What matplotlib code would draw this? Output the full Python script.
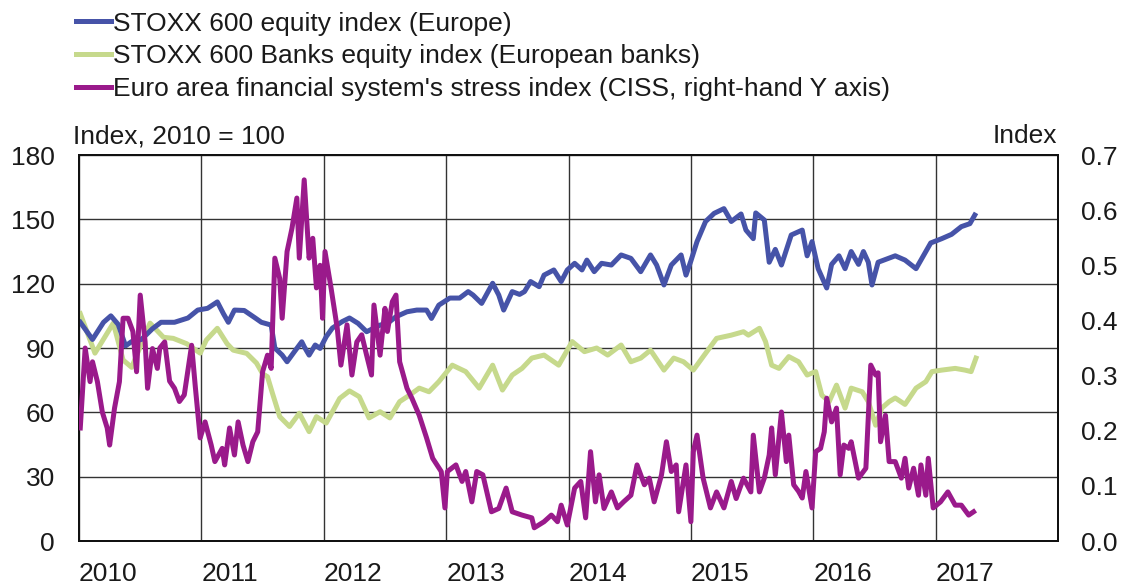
import matplotlib
matplotlib.use("Agg")
import matplotlib.pyplot as plt
from matplotlib.ticker import FuncFormatter

plt.rcParams['font.family'] = ['Liberation Sans', 'DejaVu Sans']

# ---- data (decimal years) ----
stoxx_t = [2010.01, 2010.11, 2010.20, 2010.26, 2010.32, 2010.38, 2010.43, 2010.51, 2010.60, 2010.67,
           2010.78, 2010.89, 2010.97, 2011.05, 2011.13, 2011.18, 2011.22, 2011.27, 2011.35, 2011.44,
           2011.49, 2011.57, 2011.60, 2011.66, 2011.70, 2011.76, 2011.82, 2011.84, 2011.88, 2011.93,
           2011.97, 2012.02, 2012.07, 2012.15, 2012.21, 2012.28, 2012.35, 2012.46, 2012.52, 2012.59,
           2012.68, 2012.76, 2012.84, 2012.88, 2012.94, 2013.03, 2013.11, 2013.18, 2013.22, 2013.29,
           2013.38, 2013.43, 2013.47, 2013.54, 2013.60, 2013.64, 2013.69, 2013.76, 2013.80, 2013.88,
           2013.94, 2013.99, 2014.05, 2014.11, 2014.15, 2014.21, 2014.27, 2014.35, 2014.43, 2014.51,
           2014.59, 2014.67, 2014.72, 2014.78, 2014.84, 2014.92, 2014.96, 2015.00, 2015.05, 2015.12,
           2015.19, 2015.27, 2015.33, 2015.41, 2015.45, 2015.51, 2015.53, 2015.60, 2015.64, 2015.69,
           2015.74, 2015.82, 2015.91, 2015.95, 2015.99, 2016.04, 2016.11, 2016.15, 2016.21, 2016.26,
           2016.31, 2016.37, 2016.41, 2016.45, 2016.48, 2016.53, 2016.67, 2016.75, 2016.84, 2016.88,
           2016.96, 2017.05, 2017.13, 2017.21, 2017.28, 2017.32]
stoxx_v = [102, 94, 102, 105, 101, 91, 93, 94, 99, 102,
           102, 104, 107.7, 108.5, 111.5, 106, 102, 107.7, 107.5, 104,
           102, 100.7, 90, 86.7, 83.6, 88.3, 92.9, 90.6, 86.7, 91.4,
           89.8, 95.3, 99.3, 102.3, 104, 101.5, 97.6, 100.7, 101.5, 104.6,
           106.9, 107.7, 107.7, 103.8, 110, 113.3, 113.3, 116.3, 114.7, 110.8,
           120.2, 114.7, 107.7, 116.3, 115, 116.3, 121, 118.6, 124, 126.4,
           121, 126.4, 129.5, 126.4, 131, 125.6, 129.5, 128.7, 133.4, 131.8,
           125.6, 133.4, 128.7, 119.4, 128.7, 133.4, 124, 130.6, 139.6, 149,
           152.8, 155, 149, 152.5, 145, 141, 153, 149.7, 130, 136,
           128.7, 142.7, 145, 133, 139.6, 127, 118, 129, 133, 127,
           135, 129, 135, 130, 119.4, 130, 133, 131, 127, 131,
           139, 141, 143, 146.6, 148, 152]

banks_t = [2010.01, 2010.13, 2010.28, 2010.36, 2010.43, 2010.58, 2010.69, 2010.77, 2010.88, 2010.99,
           2011.04, 2011.13, 2011.21, 2011.26, 2011.37, 2011.45, 2011.50, 2011.54, 2011.58, 2011.64,
           2011.72, 2011.80, 2011.88, 2011.94, 2012.02, 2012.13, 2012.21, 2012.29, 2012.37, 2012.46,
           2012.54, 2012.62, 2012.70, 2012.78, 2012.86, 2012.94, 2013.05, 2013.16, 2013.27, 2013.38,
           2013.46, 2013.54, 2013.62, 2013.70, 2013.80, 2013.92, 2014.03, 2014.13, 2014.23, 2014.32,
           2014.43, 2014.51, 2014.59, 2014.67, 2014.78, 2014.86, 2014.94, 2015.02, 2015.13, 2015.21,
           2015.33, 2015.43, 2015.47, 2015.56, 2015.61, 2015.66, 2015.72, 2015.80, 2015.88, 2015.95,
           2016.02, 2016.07, 2016.13, 2016.19, 2016.26, 2016.31, 2016.40, 2016.45, 2016.51, 2016.56,
           2016.62, 2016.67, 2016.75, 2016.84, 2016.92, 2016.97, 2017.05, 2017.16, 2017.24, 2017.29,
           2017.33]
banks_v = [106, 87.6, 101.6, 84.4, 81, 101.6, 95, 94.5, 92, 87.6,
           93.7, 99.2, 92, 89, 87.5, 83, 78, 76.6, 69, 58,
           53.4, 59.6, 51, 58, 55, 66.5, 70, 67.3, 57.4, 60.3,
           57.4, 65, 68, 71.3, 69.6, 74.3, 82, 79, 71.3, 82,
           70.4, 77.4, 80.5, 85.3, 86.7, 82, 93, 88.3, 90, 86.7,
           91.4, 83.6, 85.3, 89, 79.7, 85.3, 83.6, 79.7, 88.3, 94.5,
           96, 97.6, 96, 99.2, 93, 82, 80.5, 86, 83.6, 77.4,
           79, 68, 65, 72.7, 62, 71.3, 69.6, 65, 54, 62,
           65, 66.7, 63.7, 71.3, 74.3, 79, 79.7, 80.5, 79.7, 79,
           85.3]

ciss_t = [2010.01, 2010.05, 2010.09, 2010.11, 2010.15, 2010.19, 2010.23, 2010.25, 2010.29, 2010.33,
          2010.36, 2010.40, 2010.44, 2010.47, 2010.50, 2010.54, 2010.56, 2010.60, 2010.64, 2010.66,
          2010.70, 2010.74, 2010.78, 2010.82, 2010.86, 2010.92, 2010.95, 2010.99, 2011.03, 2011.08,
          2011.11, 2011.17, 2011.19, 2011.23, 2011.27, 2011.30, 2011.34, 2011.38, 2011.42, 2011.46,
          2011.50, 2011.54, 2011.57, 2011.60, 2011.64, 2011.66, 2011.70, 2011.74, 2011.78, 2011.80,
          2011.84, 2011.88, 2011.91, 2011.94, 2011.97, 2011.99, 2012.01, 2012.06, 2012.11, 2012.14,
          2012.19, 2012.23, 2012.27, 2012.31, 2012.35, 2012.39, 2012.41, 2012.46, 2012.50, 2012.52,
          2012.56, 2012.59, 2012.62, 2012.68, 2012.72, 2012.78, 2012.84, 2012.89, 2012.96, 2012.99,
          2013.01, 2013.08, 2013.13, 2013.16, 2013.21, 2013.25, 2013.30, 2013.37, 2013.43, 2013.49,
          2013.54, 2013.62, 2013.70, 2013.72, 2013.80, 2013.86, 2013.91, 2013.94, 2013.99, 2014.05,
          2014.10, 2014.14, 2014.18, 2014.22, 2014.25, 2014.29, 2014.35, 2014.40, 2014.45, 2014.51,
          2014.56, 2014.62, 2014.66, 2014.70, 2014.76, 2014.80, 2014.84, 2014.88, 2014.90, 2014.96,
          2015.00, 2015.02, 2015.05, 2015.10, 2015.16, 2015.21, 2015.27, 2015.33, 2015.37, 2015.43,
          2015.49, 2015.51, 2015.56, 2015.60, 2015.64, 2015.66, 2015.69, 2015.74, 2015.78, 2015.80,
          2015.84, 2015.88, 2015.91, 2015.94, 2015.99, 2016.02, 2016.06, 2016.09, 2016.11, 2016.15,
          2016.19, 2016.22, 2016.25, 2016.29, 2016.31, 2016.37, 2016.43, 2016.47, 2016.51, 2016.53,
          2016.55, 2016.59, 2016.62, 2016.67, 2016.72, 2016.75, 2016.78, 2016.82, 2016.86, 2016.88,
          2016.92, 2016.94, 2016.98, 2017.04, 2017.10, 2017.16, 2017.21, 2017.27, 2017.31]
ciss_v = [0.205, 0.35, 0.289, 0.325, 0.289, 0.234, 0.205, 0.174, 0.241, 0.289,
          0.404, 0.404, 0.38, 0.307, 0.446, 0.361, 0.277, 0.349, 0.313, 0.35,
          0.361, 0.29, 0.277, 0.253, 0.265, 0.355, 0.28, 0.187, 0.216, 0.174,
          0.144, 0.168, 0.138, 0.205, 0.156, 0.216, 0.174, 0.144, 0.18, 0.198,
          0.307, 0.337, 0.313, 0.513, 0.476, 0.404, 0.525, 0.567, 0.622, 0.513,
          0.655, 0.513, 0.549, 0.459, 0.50, 0.404, 0.525, 0.458, 0.386, 0.319,
          0.392, 0.301, 0.361, 0.374, 0.337, 0.301, 0.428, 0.337, 0.422, 0.38,
          0.434, 0.446, 0.325, 0.277, 0.259, 0.228, 0.187, 0.15, 0.126, 0.06,
          0.126, 0.138, 0.108, 0.126, 0.071, 0.126, 0.12, 0.053, 0.059, 0.096,
          0.053, 0.047, 0.042, 0.024, 0.035, 0.047, 0.035, 0.065, 0.029, 0.096,
          0.108, 0.042, 0.162, 0.071, 0.12, 0.059, 0.089, 0.06, 0.071, 0.083,
          0.138, 0.102, 0.114, 0.071, 0.12, 0.18, 0.126, 0.138, 0.053, 0.138,
          0.035, 0.162, 0.192, 0.114, 0.06, 0.089, 0.06, 0.108, 0.077, 0.114,
          0.089, 0.192, 0.089, 0.114, 0.156, 0.205, 0.12, 0.234, 0.144, 0.192,
          0.102, 0.09, 0.078, 0.126, 0.06, 0.162, 0.168, 0.198, 0.259, 0.216,
          0.241, 0.12, 0.174, 0.168, 0.18, 0.114, 0.132, 0.319, 0.301, 0.305,
          0.18, 0.228, 0.144, 0.144, 0.114, 0.15, 0.096, 0.132, 0.083, 0.138,
          0.083, 0.15, 0.06, 0.071, 0.089, 0.065, 0.065, 0.047, 0.053]

labels = ["STOXX 600 equity index (Europe)",
          "STOXX 600 Banks equity index (European banks)",
          "Euro area financial system's stress index (CISS, right-hand Y axis)"]
years = [2010, 2011, 2012, 2013, 2014, 2015, 2016, 2017]
left_ticks = [0, 30, 60, 90, 120, 150, 180]
right_ticks = [0.0, 0.1, 0.2, 0.3, 0.4, 0.5, 0.6, 0.7]

c_blue = '#4653A8'
c_green = '#C6D98C'
c_purple = '#9A1A8B'
txt = '#1a1a1a'
FS = 19
LW = 3.6

fig = plt.figure(figsize=(11.26, 5.85), dpi=100)
ax = fig.add_axes([0.0702, 0.0752, 0.8694, 0.6598])

l1, = ax.plot(stoxx_t, stoxx_v, color=c_blue, lw=LW, solid_joinstyle='round', zorder=3)
l2, = ax.plot(banks_t, banks_v, color=c_green, lw=LW, solid_joinstyle='round', zorder=2)
ax.set_xlim(2010, 2018)
ax.set_ylim(0, 180)
ax.set_yticks(left_ticks)
ax.set_xticks(years)
ax.set_xticklabels([str(y) for y in years], ha='left')
ax.grid(True, color='#333333', lw=1.0)
ax.set_axisbelow(True)
ax.tick_params(axis='both', length=0, labelsize=FS, colors=txt)
ax.tick_params(axis='y', pad=17.5)
ax.tick_params(axis='x', pad=15)
for s in ax.spines.values():
    s.set_linewidth(1.4)
    s.set_color('#111111')

ax2 = ax.twinx()
l3, = ax2.plot(ciss_t, ciss_v, color=c_purple, lw=LW, solid_joinstyle='round', zorder=4)
ax2.set_ylim(0, 0.7)
ax2.set_yticks(right_ticks)
ax2.yaxis.set_major_formatter(FuncFormatter(lambda v, p: f"{v:.1f}"))
ax2.tick_params(axis='y', length=0, labelsize=FS, colors=txt, pad=16.5)
for s in ax2.spines.values():
    s.set_linewidth(1.4)
    s.set_color('#111111')

ax.text(-0.006, 1.031, "Index, 2010 = 100", transform=ax.transAxes, fontsize=FS,
        color=txt, ha='left', va='baseline')
ax.text(0.999, 1.031, "Index", transform=ax.transAxes, fontsize=FS,
        color=txt, ha='right', va='baseline')

fig.legend([l1, l2, l3], labels, loc='upper left', bbox_to_anchor=(0.0585, 0.998),
           frameon=False, fontsize=FS, handlelength=1.3, handletextpad=0.1,
           labelspacing=0.33, borderaxespad=0.0, labelcolor=txt)

fig.savefig("out.png", dpi=100)
